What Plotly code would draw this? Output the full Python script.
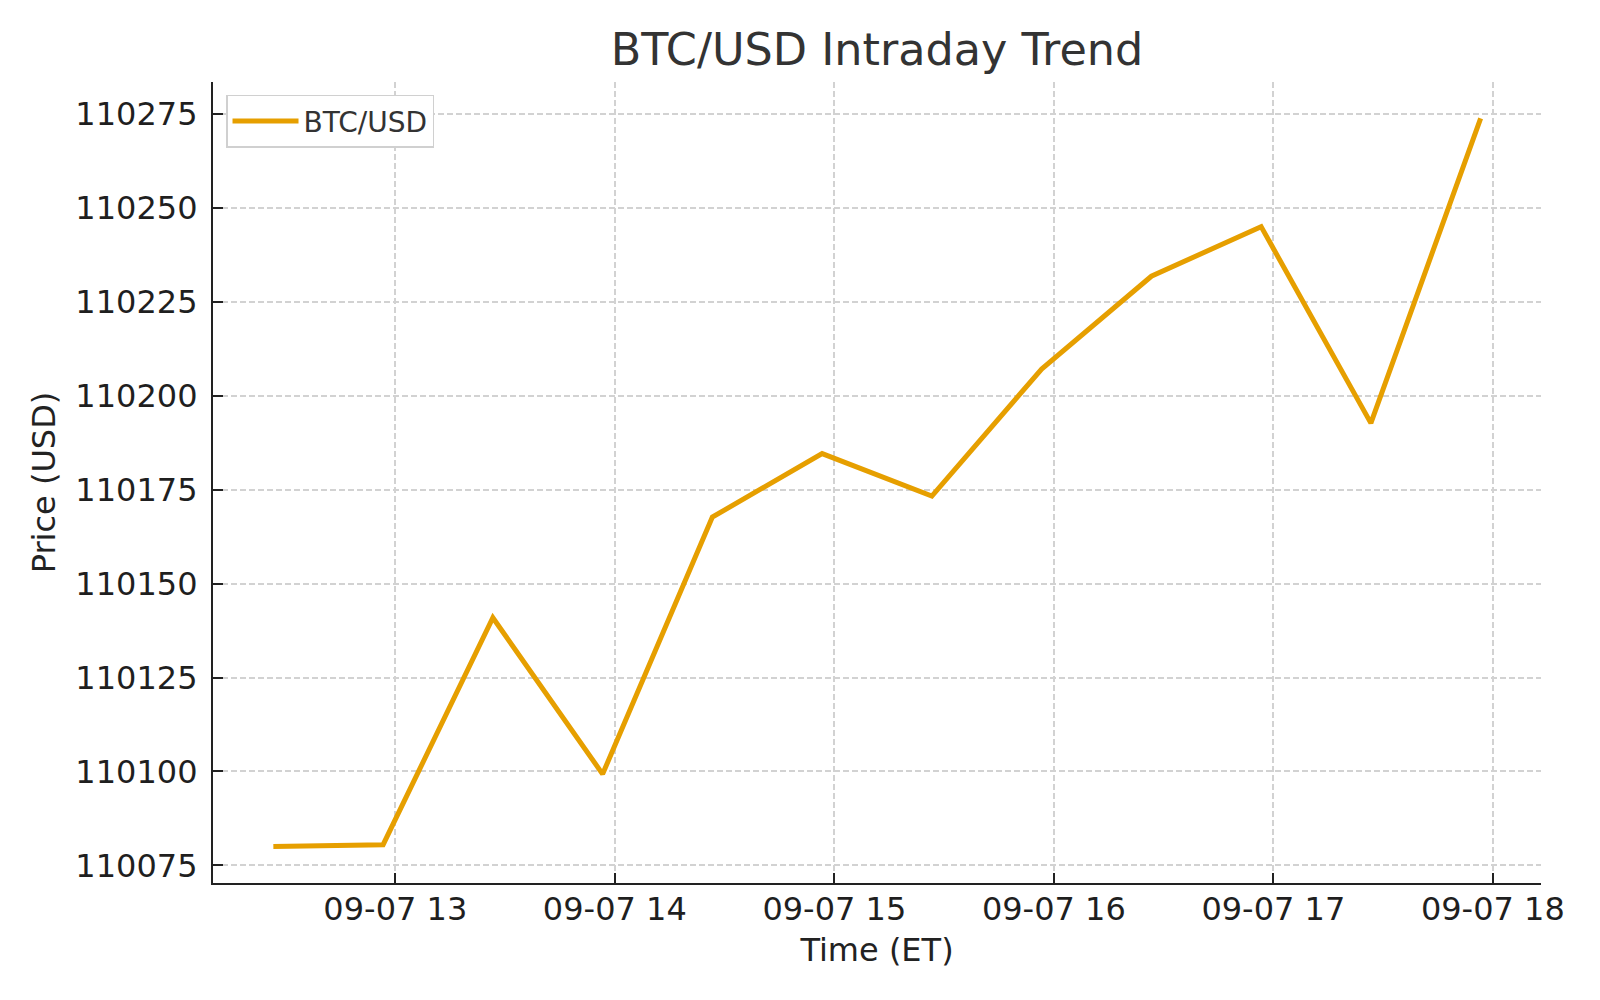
import plotly.graph_objects as go
import pandas as pd

# Data
times = [
    "2025-09-07 12:26:40", "2025-09-07 12:56:40", "2025-09-07 13:26:40",
    "2025-09-07 13:56:40", "2025-09-07 14:26:40", "2025-09-07 14:56:40",
    "2025-09-07 15:26:40", "2025-09-07 15:56:40", "2025-09-07 16:26:40",
    "2025-09-07 16:56:40", "2025-09-07 17:26:40", "2025-09-07 17:56:40",
]
prices = [
    110080.0, 110080.5, 110140.9, 110099.3, 110167.7, 110184.6,
    110173.3, 110207.1, 110231.8, 110245.0, 110192.7, 110273.8,
]
y_ticks = [110075, 110100, 110125, 110150, 110175, 110200, 110225, 110250, 110275]
series_name = "BTC/USD"

t = pd.to_datetime(times)
span_t = t.max() - t.min()
x_range = [t.min() - span_t * 0.05, t.max() + span_t * 0.05]
span_y = max(prices) - min(prices)
y_range = [min(prices) - span_y * 0.05, max(prices) + span_y * 0.05]

FONT = "DejaVu Sans"
ORANGE = "#E69F00"

fig = go.Figure()
fig.add_trace(go.Scatter(
    x=t, y=prices, mode="lines", name=series_name,
    line=dict(color=ORANGE, width=5),
))

axis_common = dict(
    showline=True, linecolor="#222222", linewidth=2.2,
    ticks="inside", ticklen=10, tickwidth=2, tickcolor="#222222",
    showgrid=True, gridcolor="#d2d2d2", gridwidth=1.5, griddash="6px,3px",
    zeroline=False, mirror=False,
    tickfont=dict(family=FONT, size=32, color="#1f1f1f"),
)

fig.update_layout(
    width=1600, height=1000,
    margin=dict(l=205, r=67, t=74, b=125),
    paper_bgcolor="white", plot_bgcolor="white",
    font=dict(family=FONT, color="#222222"),
    title=dict(
        text="BTC/USD Intraday Trend",
        font=dict(family=FONT, size=44.5, color="#333333"),
        x=0.5, xref="paper", xanchor="center",
        y=1 - 41 / 1000, yref="container", yanchor="middle",
    ),
    xaxis=dict(
        **axis_common,
        type="date", range=x_range,
        tick0="2025-09-07 13:00:00", dtick=3600000,
        tickformat="%m-%d %H",
        ticklabelstandoff=-4,
        title=dict(text="Time (ET)", font=dict(family=FONT, size=32, color="#222222"), standoff=12),
    ),
    yaxis=dict(
        **axis_common,
        range=y_range,
        tickmode="array", tickvals=y_ticks, ticktext=[str(v) for v in y_ticks],
        ticklabelstandoff=7,
        title=dict(text="Price (USD)", font=dict(family=FONT, size=32, color="#222222"), standoff=10),
    ),
    showlegend=True,
    legend=dict(
        x=0.0098, y=0.984, xanchor="left", yanchor="top",
        bgcolor="white", bordercolor="#d0d0d0", borderwidth=1.5,
        itemwidth=66,
        font=dict(family=FONT, size=28, color="#333333"),
    ),
)

fig.write_html("out.html")
